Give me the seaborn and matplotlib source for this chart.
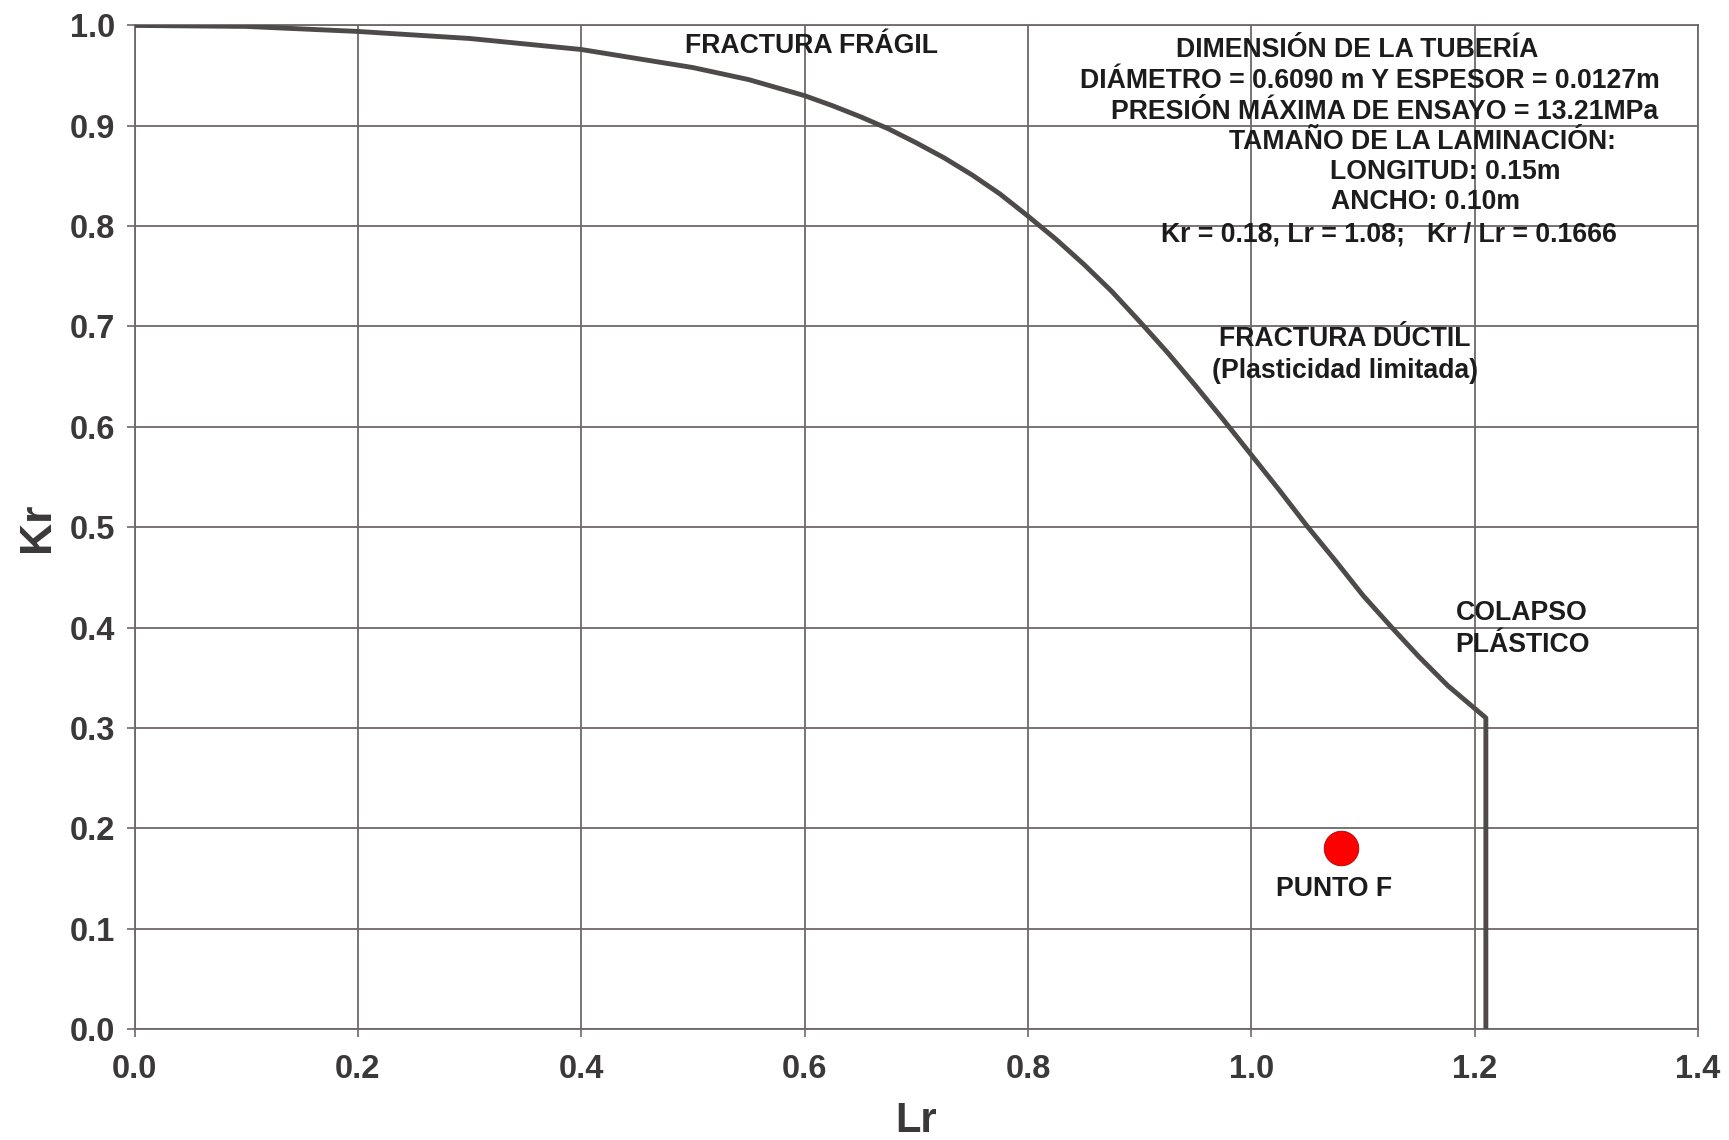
import matplotlib
matplotlib.use("Agg")
import matplotlib.pyplot as plt
import pandas as pd
import seaborn as sns

# Failure assessment line (Lr, Kr), ending in the plastic-collapse cut-off at Lr = 1.21
lr_curve = [0.00, 0.10, 0.20, 0.30, 0.40, 0.50, 0.55, 0.60, 0.625, 0.65, 0.675, 0.70,
            0.725, 0.75, 0.775, 0.80, 0.825, 0.85, 0.875, 0.90, 0.925, 0.95, 0.975,
            1.00, 1.025, 1.05, 1.075, 1.10, 1.125, 1.15, 1.176, 1.21, 1.21]
kr_curve = [1.000, 0.999, 0.994, 0.987, 0.976, 0.958, 0.946, 0.930, 0.920, 0.909, 0.897, 0.883,
            0.868, 0.851, 0.832, 0.810, 0.787, 0.762, 0.735, 0.705, 0.674, 0.641, 0.607,
            0.572, 0.537, 0.501, 0.467, 0.432, 0.401, 0.371, 0.342, 0.310, 0.000]

# Assessed defect (punto F)
point_lr = [1.08]
point_kr = [0.18]

x_ticks = [0.0, 0.2, 0.4, 0.6, 0.8, 1.0, 1.2, 1.4]
y_ticks = [0.0, 0.1, 0.2, 0.3, 0.4, 0.5, 0.6, 0.7, 0.8, 0.9, 1.0]

info_lines = [
    "DIMENSIÓN DE LA TUBERÍA",
    "DIÁMETRO = 0.6090 m Y ESPESOR = 0.0127m",
    "PRESIÓN MÁXIMA DE ENSAYO = 13.21MPa",
    "TAMAÑO DE LA LAMINACIÓN:",
    "LONGITUD: 0.15m",
    "ANCHO: 0.10m",
    "Kr = 0.18, Lr = 1.08;   Kr / Lr = 0.1666",
]

GRID = "#6e6868"
CURVE = "#4f4a4a"
TICK_TXT = "#3a3838"
TXT = "#1c1c1c"

sns.set_theme(style="whitegrid")
plt.rcParams["font.family"] = ["Liberation Sans", "DejaVu Sans"]
plt.rcParams["font.weight"] = "bold"

fig = plt.figure(figsize=(17.29, 11.40), dpi=100)
fig.patch.set_facecolor("white")
ax = fig.add_axes([0.0778, 0.0974, 0.9043, 0.8803])
ax.set_facecolor("white")

curve = pd.DataFrame({"Lr": lr_curve, "Kr": kr_curve})
sns.lineplot(data=curve, x="Lr", y="Kr", sort=False, estimator=None,
             color=CURVE, linewidth=3.5, ax=ax, zorder=3)

pts = pd.DataFrame({"Lr": point_lr, "Kr": point_kr})
sns.scatterplot(data=pts, x="Lr", y="Kr", s=620, color="#ff0000",
                edgecolor="#b00000", linewidth=0.6, ax=ax, zorder=4)

ax.set_xlim(0, 1.4)
ax.set_ylim(0, 1.0)
ax.set_xticks(x_ticks)
ax.set_yticks(y_ticks)
ax.set_xticklabels([f"{v:.1f}" for v in x_ticks])
ax.set_yticklabels([f"{v:.1f}" for v in y_ticks])

ax.grid(True, color=GRID, linewidth=1.3)
for side in ax.spines.values():
    side.set_visible(True)
    side.set_color(GRID)
    side.set_linewidth(1.3)

ax.tick_params(axis="both", which="major", length=6, width=1.2, color=GRID,
               labelsize=23.5, labelcolor=TICK_TXT, bottom=True, left=True)
ax.tick_params(axis="x", pad=12)
ax.tick_params(axis="y", pad=8)
for lab in ax.get_xticklabels() + ax.get_yticklabels():
    lab.set_fontweight("bold")

ax.set_xlabel("Lr", fontsize=30, fontweight="bold", color=TICK_TXT)
ax.set_ylabel("Kr", fontsize=32, fontweight="bold", color=TICK_TXT)
ax.xaxis.set_label_coords(0.5, -0.072)
ax.yaxis.set_label_coords(-0.049, 0.5)

fs = 19.2
ax.text(0.606, 0.979, "FRACTURA FRÁGIL", ha="center", va="center",
        fontsize=fs, fontweight="bold", color=TXT)

info_pos = [(1.095, 0.976), (1.106, 0.945), (1.119, 0.914), (1.153, 0.8835),
            (1.174, 0.854), (1.156, 0.824), (1.123, 0.792)]
for (x, y), line in zip(info_pos, info_lines):
    ax.text(x, y, line, ha="center", va="center", fontsize=fs,
            fontweight="bold", color=TXT)

ax.text(1.084, 0.688, "FRACTURA DÚCTIL", ha="center", va="center",
        fontsize=fs, fontweight="bold", color=TXT)
ax.text(1.084, 0.656, "(Plasticidad limitada)", ha="center", va="center",
        fontsize=fs, fontweight="bold", color=TXT)
ax.text(1.183, 0.414, "COLAPSO", ha="left", va="center",
        fontsize=fs, fontweight="bold", color=TXT)
ax.text(1.183, 0.383, "PLÁSTICO", ha="left", va="center",
        fontsize=fs, fontweight="bold", color=TXT)
ax.text(1.074, 0.139, "PUNTO F", ha="center", va="center",
        fontsize=fs, fontweight="bold", color=TXT)

fig.savefig("out.png", dpi=100, facecolor="white")
